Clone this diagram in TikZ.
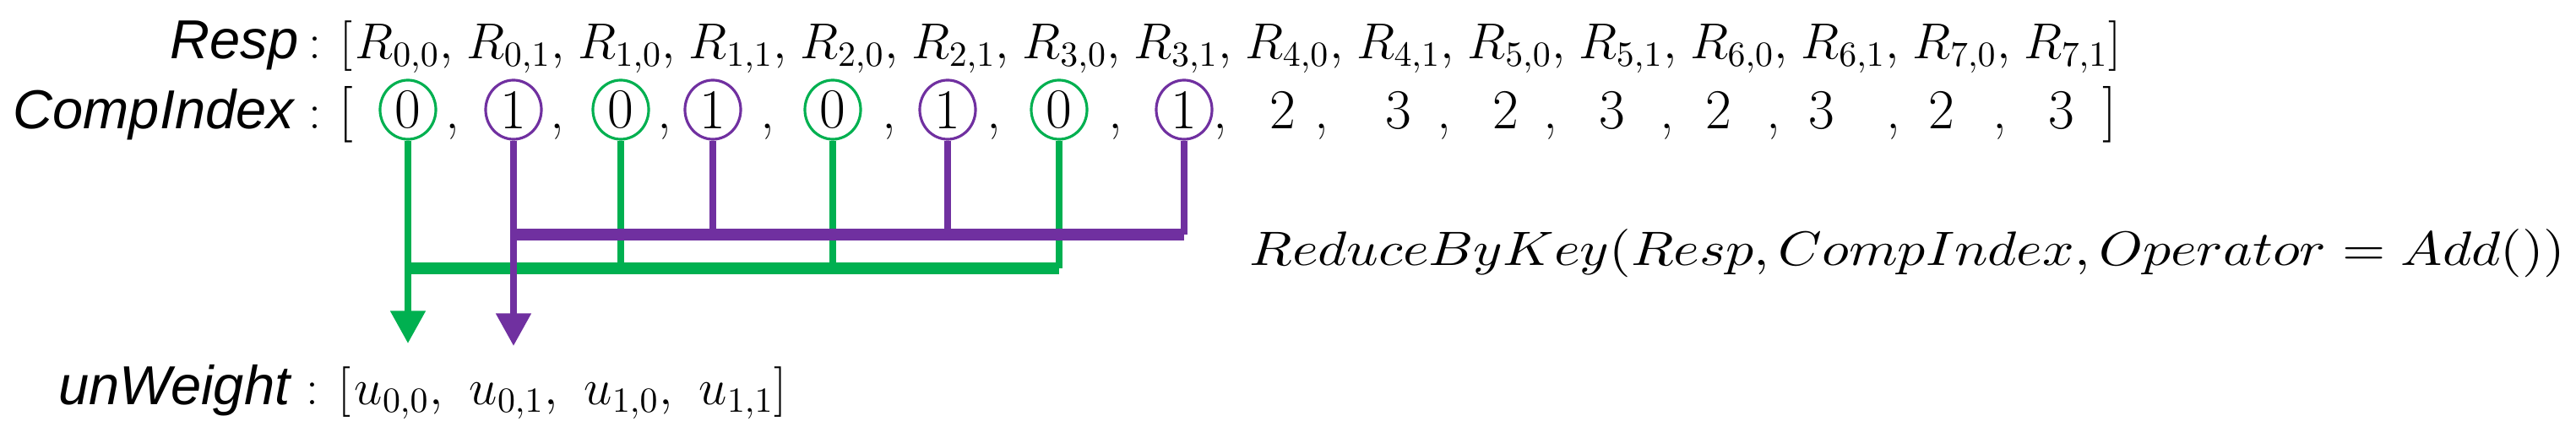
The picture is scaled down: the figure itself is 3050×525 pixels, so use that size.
\RequirePackage{fix-cm}
\documentclass[tikz,border=0pt]{standalone}
\usepackage{fontspec}
\setsansfont{Liberation Sans}
\usetikzlibrary{shapes.geometric,arrows.meta}
\definecolor{gr}{RGB}{0,176,80}
\definecolor{pu}{RGB}{112,48,160}
\tikzset{
  lab/.style={font=\sffamily\itshape\fontsize{18.5}{20}\selectfont,inner sep=0pt},
  mth/.style={font=\fontsize{17}{20}\selectfont,inner sep=0pt},
  dig/.style={font=\fontsize{19}{22}\selectfont,inner sep=0pt},
  cg/.style={ellipse,draw=gr,line width=0.9pt,minimum width=0.66cm,minimum height=0.70cm,inner sep=0pt,font=\fontsize{19}{22}\selectfont},
  cp/.style={cg,draw=pu},
  gv/.style={draw=gr,line width=2.3pt},
  pv/.style={draw=pu,line width=2.3pt},
  gbar/.style={draw=gr,line width=4pt},
  pbar/.style={draw=pu,line width=4pt},
  arr/.style={-{Triangle[width=11.4pt,length=11pt]}}
}
\begin{document}
\begin{tikzpicture}[x=0.01cm,y=-0.01cm]
\useasboundingbox (0,0) rectangle (3050,525);
% Resp row
\node[lab,anchor=base east] (resplab) at (354,70) {Resp};
\node[mth,anchor=base] (respcol) at (373,70) {:};
\node[mth,anchor=base] (respopen) at (410,70) {[};
\foreach \s [count=\k from 0] in {{0,0},{0,1},{1,0},{1,1},{2,0},{2,1},{3,0},{3,1},{4,0},{4,1},{5,0},{5,1},{6,0},{6,1},{7,0}}
  \node[mth,anchor=base west] (r\k) at ({420+131.7*\k},70) {$R_{\s},$};
\node[mth,anchor=base west] (r15) at ({420+131.7*15},70) {$R_{7,1}]$};
% CompIndex row
\node[lab,anchor=base east] (complab) at (349,153) {CompIndex};
\node[mth,anchor=base] (compcol) at (373,153) {:};
\node[dig,anchor=base] (compopen) at (410,153) {[};
\node[cg] (c0) at (483,130) {0};
\node[cp] (c1) at (608,130) {1};
\node[cg] (c2) at (735,130) {0};
\node[cp] (c3) at (844,130) {1};
\node[cg] (c4) at (986,130) {0};
\node[cp] (c5) at (1122,130) {1};
\node[cg] (c6) at (1254,130) {0};
\node[cp] (c7) at (1402,130) {1};
\foreach \x [count=\k] in {536,660,787,909,1053,1177,1321,1445,1565,1710,1836,1974,2100,2242,2368}
  \node[dig,anchor=base] (cm\k) at (\x,153) {,};
\foreach \x/\d [count=\k] in {1519/2,1656/3,1783/2,1909/3,2035/2,2157/3,2299/2,2441/3}
  \node[dig,anchor=base] (d\k) at (\x,153) {\d};
\node[dig,anchor=base] (compclose) at (2498,153) {]};
% coordinates
\coordinate (gb) at (0,318);
\coordinate (pb) at (0,278);
\coordinate (gt) at (0,407);
\coordinate (pt) at (0,410);
% green
\draw[gbar] (c0.south |- gb) -- (c6.south |- gb);
\foreach \c in {c2,c4,c6} \draw[gv] (\c.south) -- (\c.south |- gb);
\draw[gv,arr] (c0.south) -- (c0.south |- gt);
% purple
\draw[pbar] (c1.south |- pb) -- (c7.south |- pb);
\foreach \c in {c3,c5,c7} \draw[pv] (\c.south) -- (\c.south |- pb);
\draw[pv,arr] (c1.south) -- (c1.south |- pt);
% ReduceByKey
\node[anchor=base west,inner sep=0pt] (rbk) at (1479,315) {\resizebox{443pt}{12.2pt}{$ReduceByKey(Resp,CompIndex,Operator=Add())$}};
% unWeight
\node[lab,anchor=base east] (uwlab) at (344,480) {unWeight};
\node[mth,anchor=base] (uwcol) at (370,480) {:};
\node[mth,anchor=base] (uwopen) at (408,480) {[};
\foreach \s [count=\k from 0] in {{0,0},{0,1},{1,0}}
  \node[mth,anchor=base west] (u\k) at ({419+136*\k},480) {$u_{\s},$};
\node[mth,anchor=base west] (u3) at (827,480) {$u_{1,1}]$};
\end{tikzpicture}
\end{document}
